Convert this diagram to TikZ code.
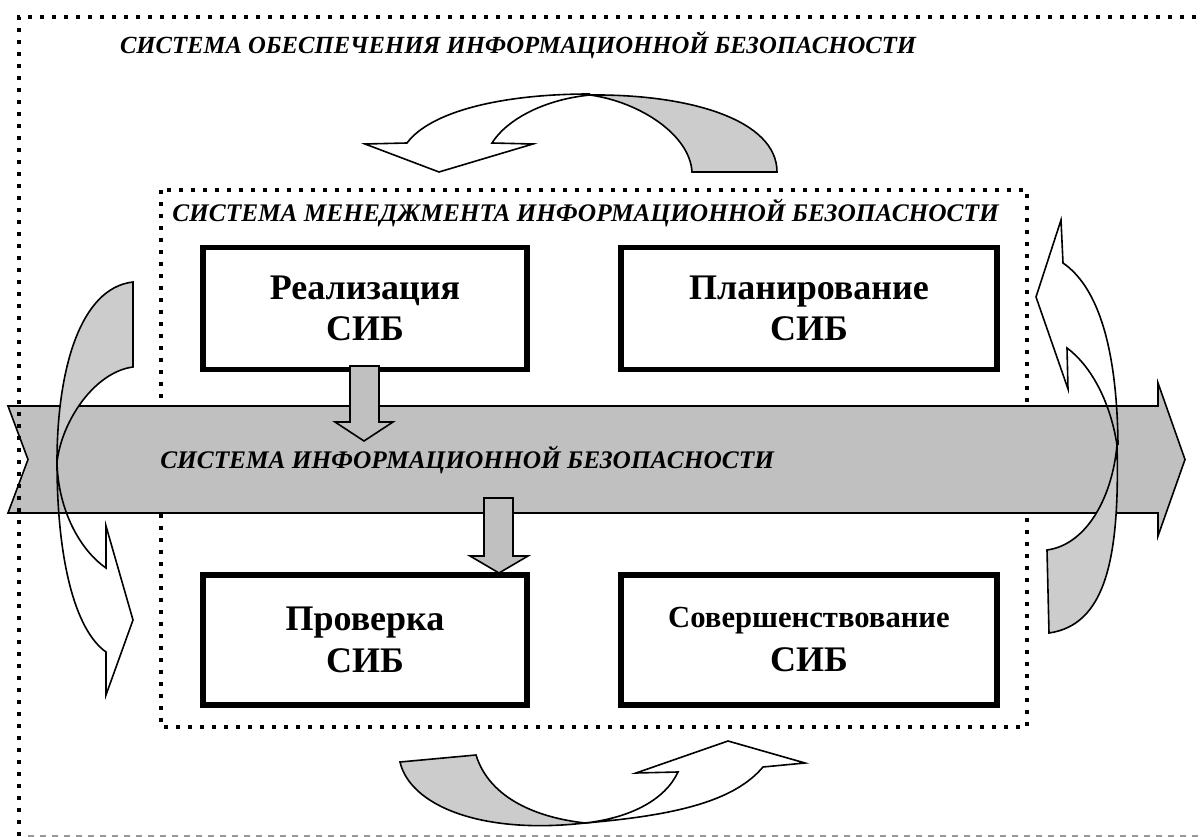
\documentclass[tikz,border=0pt]{standalone}
\usepackage{fontspec}
\setmainfont{Liberation Serif}
\begin{document}
\begin{tikzpicture}[x=0.75pt,y=-0.75pt]
\definecolor{bandgray}{HTML}{C0C0C0}
\definecolor{backgray}{HTML}{CCCCCC}
\tikzset{
  dotline/.style={line width=3pt, dash pattern=on 3pt off 6pt},
  dashline/.style={line width=1pt, draw=gray!80, dash pattern=on 4.5pt off 4.5pt},
  sibbox/.style={draw, line width=4pt, fill=white, align=center, inner sep=0pt,
    font=\bfseries\fontsize{27}{31}\selectfont},
  headline/.style={font=\bfseries\itshape\fontsize{19}{23}\selectfont, inner sep=0pt},
  shapeline/.style={draw=black, line width=1.2pt, line join=miter},
}
\useasboundingbox (0,0) rectangle (1204,837);

% inner frame: the management system
\draw[dotline] (161,190) rectangle (1027,727);
\node[headline, anchor=west] (smib) at (172,213) {СИСТЕМА МЕНЕДЖМЕНТА ИНФОРМАЦИОННОЙ БЕЗОПАСНОСТИ};

% the four process boxes
\node[sibbox, minimum width=243pt, minimum height=91.5pt] (real) at (365,308.5) {Реализация\\СИБ};
\node[sibbox, minimum width=282pt, minimum height=91.5pt] (plan) at (809,308.5) {Планирование\\СИБ};
\node[sibbox, minimum width=243pt, minimum height=97.5pt] (prov) at (365,640) {Проверка\\СИБ};
\node[sibbox, minimum width=282pt, minimum height=97.5pt, font=\bfseries\fontsize{23}{27}\selectfont] (sov) at (809,640) {Совершенствование\\[6pt]{\fontsize{27}{31}\selectfont СИБ}};

% the information security system band
\draw[shapeline, fill=bandgray] (8,406) -- (1158,406) -- (1158,383) -- (1185,459.5)
  -- (1158,536) -- (1158,513) -- (8,513) -- (28,459.5) -- cycle;
\node[headline, anchor=west] (sib) at (160,460) {СИСТЕМА ИНФОРМАЦИОННОЙ БЕЗОПАСНОСТИ};

% block arrows: implementation -> band -> check
\draw[shapeline, fill=bandgray] (350,366) -- (379,366) -- (379,422) -- (393,422) -- (364,441)
  -- (335,422) -- (350,422) -- cycle;
\draw[shapeline, fill=bandgray] (484,498) -- (513,498) -- (513,556) -- (528,556) -- (499,573)
  -- (470,556) -- (484,556) -- cycle;

% outer frame: the security assurance system
\draw[dotline] (19,836) -- (19,17) -- (1204,17);
\draw[dashline] (28,836) -- (1204,836);
\node[headline, font=\bfseries\itshape\fontsize{18.5}{22}\selectfont] (sobib) at (518,45) {СИСТЕМА ОБЕСПЕЧЕНИЯ ИНФОРМАЦИОННОЙ БЕЗОПАСНОСТИ};

% curved arrow, top
\draw[shapeline, fill=backgray] (692,172) .. controls (690,135) and (640,102) .. (590,95)
  .. controls (690,94) and (777,120) .. (777,172) -- cycle;
\draw[shapeline] (590,94) .. controls (500,94) and (430,112) .. (407,143) -- (365,144)
  -- (439,172) -- (533,144) -- (492,143) .. controls (505,122) and (540,100) .. (590,95);

% curved arrow, left
\draw[shapeline, fill=backgray] (133,282) .. controls (80,288) and (57,370) .. (57,462)
  .. controls (62,420) and (95,372) .. (133,367) -- cycle;
\draw[shapeline] (57,462) .. controls (57,560) and (75,630) .. (106,652) -- (106,695)
  -- (133,620) -- (106,526) -- (106,568) .. controls (80,550) and (58,510) .. (57,462);

% curved arrow, right
\draw[shapeline, fill=backgray] (1047,550) .. controls (1085,545) and (1112,500) .. (1117,445)
  .. controls (1120,560) and (1105,625) .. (1049,633) -- cycle;
\draw[shapeline] (1118,445) .. controls (1117,340) and (1095,285) .. (1063,263) -- (1061,220)
  -- (1036,297) -- (1068,389) -- (1067,348) .. controls (1090,365) and (1110,400) .. (1117,445);

% curved arrow, bottom
\draw[shapeline, fill=backgray] (400,762) .. controls (410,805) and (480,835) .. (585,823)
  .. controls (540,818) and (490,800) .. (476,755) -- cycle;
\draw[shapeline] (585,823) .. controls (680,815) and (735,800) .. (763,767) -- (805,763)
  -- (728,741) -- (636,773) -- (678,772) .. controls (665,800) and (630,818) .. (585,823);
\end{tikzpicture}
\end{document}
